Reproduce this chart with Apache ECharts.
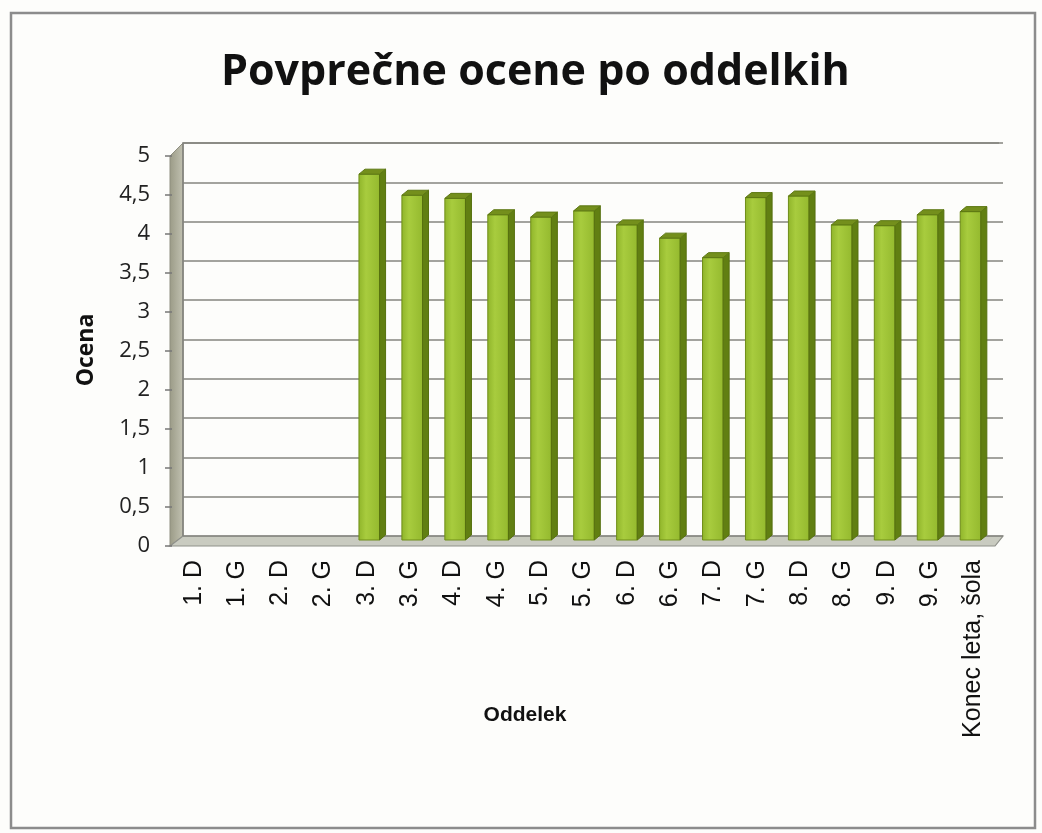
<!DOCTYPE html>
<html>
<head>
<meta charset="utf-8">
<script src="https://cdn.jsdelivr.net/npm/echarts@6/dist/echarts.min.js"></script>
<style>
html,body{margin:0;padding:0;background:#fdfdfb;}
#chart{width:1042px;height:833px;}
</style>
</head>
<body>
<div id="chart"></div>
<script>
// ---- data ----
var categories = ['1. D','1. G','2. D','2. G','3. D','3. G','4. D','4. G','5. D','5. G','6. D','6. G','7. D','7. G','8. D','8. G','9. D','9. G','Konec leta, šola'];
var values = [null, null, null, null, 4.69, 4.42, 4.38, 4.17, 4.14, 4.22, 4.04, 3.87, 3.62, 4.39, 4.41, 4.04, 4.03, 4.17, 4.21];
var yTicks = [0, 0.5, 1, 1.5, 2, 2.5, 3, 3.5, 4, 4.5, 5];

var titleText = 'Povprečne ocene po oddelkih';
var yName = 'Ocena';
var xName = 'Oddelek';

var chart = echarts.init(document.getElementById('chart'), null, {renderer: 'canvas'});

// layout constants
var W = 1042, H = 833;
var front = {left: 172, right: 47, top: 156, bottom: 287};
var back  = {left: 183, right: 39, top: 143, bottom: 297};
var bars  = {left: 177, right: 49, top: 150, bottom: 293};

function yAxisBase(gridIndex) {
  return {
    type: 'value', gridIndex: gridIndex, min: yTicks[0], max: yTicks[yTicks.length - 1], interval: 0.5,
    axisLine: {show: false}, axisTick: {show: false}, axisLabel: {show: false}, splitLine: {show: false}
  };
}

var y0 = yAxisBase(0);
y0.axisTick = {show: true, length: 7, lineStyle: {color: '#777', width: 1.5}};
y0.axisLabel = {
  show: true, margin: 22, fontSize: 22, color: '#222', fontFamily: 'Open Sans, Lato, sans-serif',
  formatter: function (v) { return String(v).replace('.', ','); }
};
var y1 = yAxisBase(1);
y1.splitLine = {show: true, lineStyle: {color: '#85857f', width: 1.7}};
var y2 = yAxisBase(2);

function xAxisBase(gridIndex) {
  return {
    type: 'category', gridIndex: gridIndex, data: categories,
    axisLine: {show: false}, axisTick: {show: false}, axisLabel: {show: false}, splitLine: {show: false}
  };
}
var x0 = xAxisBase(0);
x0.axisLabel = {
  show: true, rotate: 90, margin: 14, fontSize: 25, color: '#111', interval: 0,
  fontFamily: 'Liberation Sans, Arial, sans-serif'
};

var seriesData = values.map(function (v, i) { return [i, v == null ? NaN : v]; });

function renderBar(params, api) {
  var v = api.value(1);
  if (isNaN(v)) { return null; }
  var top = api.coord([api.value(0), v]);
  var base = api.coord([api.value(0), 0]);
  var band = api.size([1, 0])[0];
  var w = band * 0.48;
  var dx = 6, dy = 5;
  var cx = top[0] + 2;
  var fl = cx - (w + dx) / 2;
  var fr = fl + w;
  var ty = top[1], by = base[1];
  var frontGrad = new echarts.graphic.LinearGradient(0, 0, 1, 0, [
    {offset: 0, color: '#8fb42a'},
    {offset: 0.35, color: '#a8cc3e'},
    {offset: 1, color: '#94b92e'}
  ]);
  return {
    type: 'group',
    children: [
      {type: 'rect', shape: {x: fl, y: ty, width: w, height: by - ty},
       style: {fill: frontGrad, stroke: '#6f8d18', lineWidth: 1}},
      {type: 'polygon', shape: {points: [[fr, ty], [fr + dx, ty - dy], [fr + dx, by - dy], [fr, by]]},
       style: {fill: '#617f12', stroke: '#56700f', lineWidth: 1}},
      {type: 'polygon', shape: {points: [[fl, ty], [fl + dx, ty - dy], [fr + dx, ty - dy], [fr, ty]]},
       style: {fill: '#748f1c', stroke: '#5d7813', lineWidth: 1}}
    ]
  };
}

// decorative walls/floor derived from grid rectangles
var fL = front.left, fR = W - front.right, fB = H - front.bottom, fT = front.top;
var bL = back.left, bR = W - back.right, bB = H - back.bottom, bT = back.top;

var option = {
  backgroundColor: '#fdfdfb',
  animation: false,
  title: {
    text: titleText, left: 216, top: 46,
    textStyle: {fontSize: 43, fontWeight: 'bold', color: '#111', fontFamily: 'Open Sans, Lato, sans-serif'}
  },
  grid: [
    {left: front.left, right: front.right, top: front.top, bottom: front.bottom},
    {left: back.left, right: back.right, top: back.top, bottom: back.bottom},
    {left: bars.left, right: bars.right, top: bars.top, bottom: bars.bottom}
  ],
  xAxis: [x0, xAxisBase(1), xAxisBase(2)],
  yAxis: [y0, y1, y2],
  graphic: [
    {type: 'rect', z: -10, shape: {x: 11, y: 13, width: 1024, height: 815},
     style: {fill: 'none', stroke: '#8c8c8c', lineWidth: 2.5}},
    // left wall
    {type: 'polygon', z: -5, shape: {points: [[fL - 2, fT], [bL, bT], [bL, bB], [fL - 2, fB]]},
     style: {fill: new echarts.graphic.LinearGradient(0, 0, 1, 0, [
       {offset: 0, color: '#9a9a86'}, {offset: 1, color: '#c2c2b2'}]), stroke: '#8f8f80', lineWidth: 1}},
    // floor
    {type: 'polygon', z: -5, shape: {points: [[fL - 2, fB], [fR, fB], [bR, bB], [bL, bB]]},
     style: {fill: '#c9cbc0', stroke: '#8f918a', lineWidth: 1.2}},
    // back wall border (left & top)
    {type: 'polyline', z: -4, shape: {points: [[bL, bB], [bL, bT], [bR - 4, bT]]},
     style: {stroke: '#85857f', lineWidth: 1.7, fill: 'none'}},
    {type: 'text', z: 10, rotation: Math.PI / 2, x: 86, y: 350,
     style: {text: yName, font: 'bold 23px "Open Sans", Lato, sans-serif', fill: '#111', align: 'center', verticalAlign: 'middle'}},
    {type: 'text', z: 10, x: 525, y: 715,
     style: {text: xName, font: 'bold 21px "Liberation Sans", Arial, sans-serif', fill: '#111', align: 'center', verticalAlign: 'middle'}}
  ],
  series: [{
    type: 'custom',
    xAxisIndex: 2, yAxisIndex: 2,
    renderItem: renderBar,
    encode: {x: 0, y: 1},
    data: seriesData,
    z: 5
  }]
};
chart.setOption(option);
</script>
</body>
</html>
